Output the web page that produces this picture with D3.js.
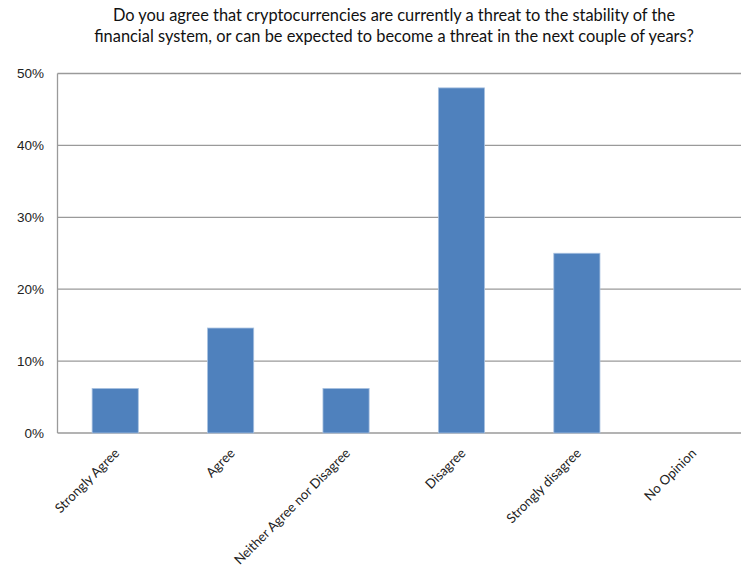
<!DOCTYPE html>
<html>
<head>
<meta charset="utf-8">
<script src="https://cdn.jsdelivr.net/npm/d3@7"></script>
<style>
  html, body { margin: 0; padding: 0; background: #fff; }
  svg { display: block; }
</style>
</head>
<body>
<svg id="chart" width="741" height="570"></svg>
<script>
// Survey responses (share of respondents)
const categories = ["Strongly Agree", "Agree", "Neither Agree nor Disagree", "Disagree", "Strongly disagree", "No Opinion"];
const values = [0.062, 0.146, 0.062, 0.48, 0.25, 0];
const yTicks = [0, 0.1, 0.2, 0.3, 0.4, 0.5];
const titleLines = [
  "Do you agree that cryptocurrencies are currently a threat to the stability of the",
  "financial system, or can be expected to become a threat in the next couple of years?"
];

const svg = d3.select("#chart");
const plotLeft = 57.5, plotRight = 750, plotTop = 73.5, plotBottom = 433;

const x = d3.scaleBand().domain(categories).range([plotLeft, plotRight]).paddingInner(0.6).paddingOuter(0.3);
const y = d3.scaleLinear().domain([0, 0.5]).range([plotBottom, plotTop]);

// Title
const title = svg.append("g").attr("font-family", "Lato, 'Open Sans', sans-serif").attr("fill", "#111");
title.selectAll("text").data(titleLines).join("text")
  .attr("x", 394).attr("y", (d, i) => 21 + i * 21)
  .attr("text-anchor", "middle")
  .attr("font-size", 16.4)
  .text(d => d);

// Horizontal gridlines
svg.append("g").selectAll("line").data(yTicks).join("line")
  .attr("x1", plotLeft).attr("x2", 741)
  .attr("y1", d => y(d)).attr("y2", d => y(d))
  .attr("stroke", "#9a9a9a").attr("stroke-width", 1.3);

// Value axis line
svg.append("line").attr("x1", plotLeft).attr("x2", plotLeft).attr("y1", plotTop).attr("y2", plotBottom)
  .attr("stroke", "#9a9a9a").attr("stroke-width", 1.3);

// Value axis labels
svg.append("g").selectAll("text").data(yTicks).join("text")
  .attr("x", 44).attr("y", d => y(d) + 4.5)
  .attr("text-anchor", "end")
  .attr("font-family", "'Liberation Sans', Arial, sans-serif")
  .attr("font-size", 13.5).attr("fill", "#222")
  .text(d => d3.format(".0%")(d));

// Bars
svg.append("g").selectAll("rect").data(values).join("rect")
  .attr("x", (d, i) => x(categories[i]))
  .attr("width", x.bandwidth())
  .attr("y", d => y(d))
  .attr("height", d => plotBottom - y(d))
  .attr("fill", "#4f81bd")
  .attr("stroke", d => d > 0 ? "#a8c1e0" : "none")
  .attr("stroke-width", 0.8);

// Category labels, rotated
svg.append("g").selectAll("text").data(categories).join("text")
  .attr("transform", d => `translate(${x(d) + x.bandwidth() / 2 + 5},${plotBottom + 21}) rotate(-45)`)
  .attr("text-anchor", "end")
  .attr("font-family", "Lato, 'Open Sans', sans-serif")
  .attr("font-size", 13.2).attr("fill", "#222")
  .text(d => d);
</script>
</body>
</html>
